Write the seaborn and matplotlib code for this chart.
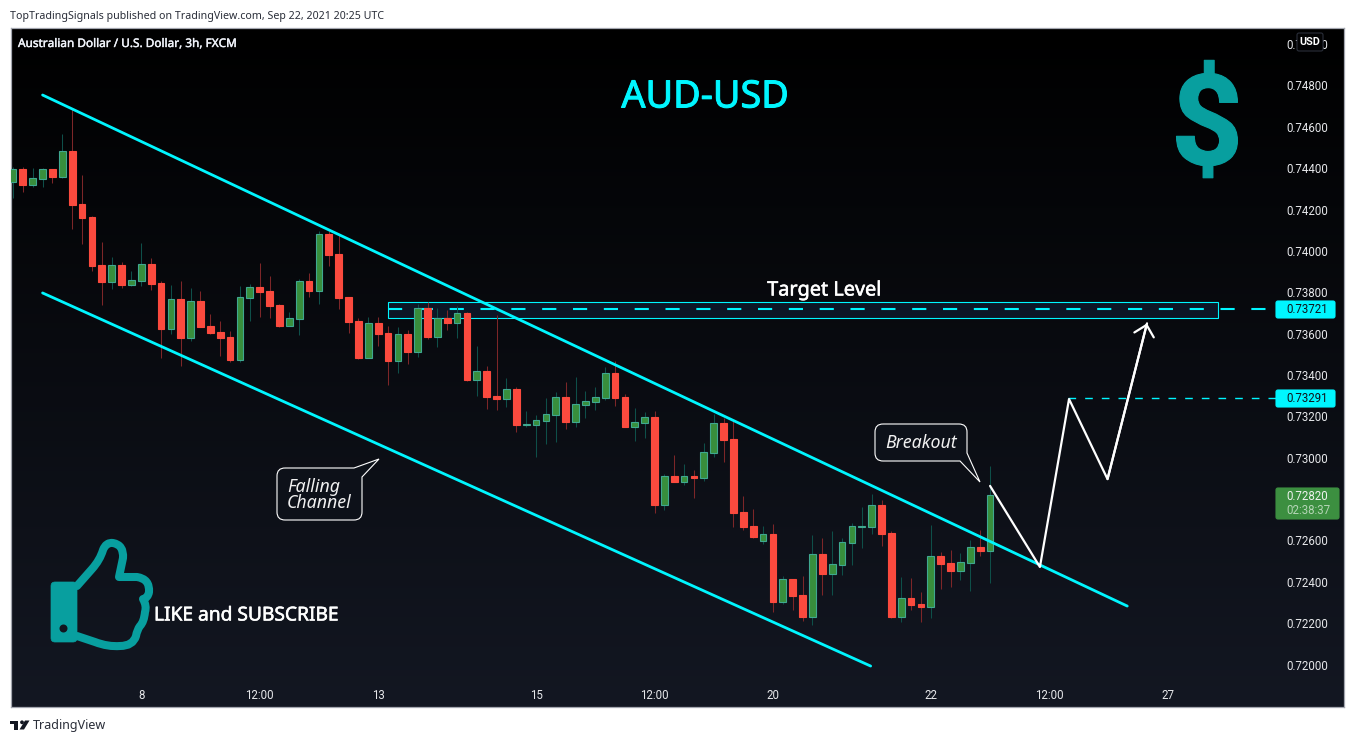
import numpy as np
import pandas as pd
import matplotlib
matplotlib.use('Agg')
import matplotlib.pyplot as plt
import matplotlib.patheffects as pe
import seaborn as sns
from matplotlib.patches import FancyBboxPatch, PathPatch, Rectangle, Circle
from matplotlib.path import Path
from matplotlib.transforms import Affine2D, ScaledTranslation

# Candles in 1e-5 price units
opens = [74337, 74397, 74321, 74352, 74397, 74360, 74484, 74228, 74165, 73933,
         73852, 73933, 73838, 73857, 73938, 73846, 73625, 73768, 73581, 73759,
         73638, 73609, 73585, 73475, 73776, 73826, 73807, 73739, 73639, 73675,
         73855, 73809, 74083, 73986, 73778, 73662, 73485, 73652, 73604, 73470,
         73599, 73514, 73725, 73586, 73676, 73654, 73701, 73378, 73420, 73299,
         73286, 73333, 73161, 73161, 73180, 73209, 73294, 73175, 73257, 73272,
         73291, 73410, 73294, 73151, 73170, 73198, 72774, 72912, 72885, 72912,
         72904, 73027, 73169, 73091, 72738, 72671, 72600, 72632, 72305, 72414,
         72337, 72232, 72535, 72440, 72484, 72590, 72667, 72667, 72772, 72637,
         72232, 72322, 72293, 72280, 72525, 72492, 72455, 72493, 72569, 72551]
highs = [74410, 74410, 74402, 74402, 74397, 74568, 74687, 74370, 74171, 74046,
         73973, 73949, 73905, 74041, 73968, 73857, 73838, 73857, 73823, 73809,
         73697, 73664, 73615, 73833, 73842, 73944, 73881, 73746, 73707, 73867,
         73896, 74099, 74099, 74083, 73778, 73678, 73683, 73683, 73639, 73635,
         73620, 73746, 73754, 73725, 73717, 73736, 73707, 73543, 73446, 73693,
         73388, 73344, 73228, 73209, 73291, 73320, 73369, 73393, 73325, 73344,
         73441, 73470, 73310, 73243, 73223, 73228, 72924, 73016, 72972, 72943,
         73074, 73214, 73195, 73180, 72817, 72754, 72672, 72682, 72430, 72414,
         72430, 72629, 72614, 72648, 72614, 72687, 72764, 72827, 72798, 72648,
         72426, 72421, 72353, 72677, 72546, 72556, 72542, 72604, 72653, 72962]
lows = [74258, 74287, 74313, 74312, 74331, 74353, 74108, 74036, 73905, 73741,
        73818, 73823, 73833, 73833, 73813, 73485, 73601, 73446, 73567, 73634,
        73601, 73494, 73465, 73465, 73664, 73683, 73678, 73634, 73639, 73596,
        73780, 73746, 73930, 73722, 73606, 73480, 73485, 73543, 73354, 73412,
        73456, 73489, 73577, 73538, 73620, 73581, 73373, 73301, 73238, 73233,
        73248, 73127, 73151, 73006, 73069, 73078, 73141, 73151, 73194, 73233,
        73281, 73252, 73151, 73083, 73098, 72735, 72750, 72885, 72870, 72808,
        72890, 73006, 72982, 72667, 72653, 72614, 72585, 72256, 72295, 72266,
        72213, 72193, 72339, 72339, 72435, 72484, 72566, 72634, 72575, 72227,
        72208, 72266, 72208, 72227, 72367, 72377, 72411, 72358, 72527, 72397]
closes = [74397, 74321, 74353, 74397, 74360, 74484, 74225, 74162, 73930, 73852,
          73933, 73838, 73860, 73938, 73842, 73625, 73768, 73581, 73759, 73634,
          73606, 73581, 73475, 73778, 73826, 73804, 73736, 73639, 73676, 73855,
          73809, 74083, 73983, 73775, 73659, 73485, 73652, 73601, 73470, 73599,
          73514, 73725, 73586, 73676, 73654, 73701, 73378, 73420, 73296, 73286,
          73333, 73161, 73164, 73183, 73212, 73294, 73175, 73261, 73275, 73294,
          73410, 73291, 73151, 73173, 73198, 72774, 72912, 72885, 72912, 72904,
          73029, 73169, 73088, 72735, 72667, 72619, 72632, 72305, 72414, 72334,
          72232, 72535, 72440, 72487, 72593, 72671, 72672, 72772, 72634, 72232,
          72322, 72290, 72280, 72525, 72488, 72455, 72496, 72569, 72551, 72820]

# Drawn lines, (bar index, price)
channel_top_x = [3, 112.9]
channel_top_y = [0.74756, 0.72285]
channel_low_x = [3, 86.9]
channel_low_y = [0.73799, 0.71995]
path_x = [99, 104.05, 107, 110.9, 114.9]
path_y = [0.72866, 0.72474, 0.73286, 0.72899, 0.73652]

target_level = 0.73721
mid_level = 0.73291
last_price = 0.72820
countdown = '02:38:37'

# 0.72800 sits behind the last price tag, so it is left out
price_ticks = [0.75, 0.748, 0.746, 0.744, 0.742, 0.74, 0.738, 0.736, 0.734,
               0.732, 0.73, 0.726, 0.724, 0.722, 0.72]
time_ticks = [13, 25, 37, 53, 65, 77, 93, 105, 117]
time_labels = ['8', '12:00', '13', '15', '12:00', '20', '22', '12:00', '27']

W, H = 1354, 743
TEAL = '#089f9f'
CYAN = '#00f6ff'
RED = '#fb4a3e'
GREEN = '#388e3c'
LABEL = '#e6e7ea'

sns.set_theme(style='dark')
plt.rcParams['font.family'] = ['Noto Sans', 'DejaVu Sans']

df = pd.DataFrame({'open': opens, 'high': highs, 'low': lows, 'close': closes}) / 1e5
df['idx'] = range(len(df))
df['up'] = df['close'] >= df['open']

fig = plt.figure(figsize=(W / 100, H / 100), dpi=100, facecolor='white')
ax = fig.add_axes([11 / W, 1 - 707 / H, 1333 / W, 679 / H])
px = Affine2D().scale(1, -1).translate(0, H)  # pixel position, origin top left

# Background fades from black to the dark blue of the theme
grad = np.linspace(0, 1, 256)[:, None, None] * np.array([0x13, 0x17, 0x22]) / 255
ax.imshow(grad, aspect='auto', extent=(0, 1, 0, 1), transform=ax.transAxes, zorder=0)

# Target box and levels sit under the candles
ax.add_patch(Rectangle((38, 0.73678), 84.1, 0.00077, facecolor='#0c1626', edgecolor=CYAN,
                       linewidth=0.8, zorder=1))
level_df = pd.DataFrame({'x': [38, 128], 'y': [target_level, target_level]})
sns.lineplot(data=level_df, x='x', y='y', color=CYAN, linewidth=1.5, linestyle=(0, (6.8, 8)),
             ax=ax, zorder=2, legend=False, errorbar=None)
mid_df = pd.DataFrame({'x': [106.9, 128], 'y': [mid_level, mid_level]})
sns.lineplot(data=mid_df, x='x', y='y', color=CYAN, linewidth=1, linestyle=(0, (5.5, 6.5)),
             ax=ax, zorder=2, legend=False, errorbar=None)

# Candles
for up, part in df.groupby('up'):
    wick = '#0e4f49' if up else '#7d2628'
    ax.vlines(part['idx'], part['low'], part['high'], color=wick, linewidth=0.75, zorder=3)
    ax.bar(part['idx'], (part['close'] - part['open']).abs().clip(lower=0.00003),
           bottom=part[['open', 'close']].min(axis=1), width=0.68,
           color=GREEN if up else RED, edgecolor='#3fa890' if up else RED, linewidth=0.8, zorder=4)

# Channel and projected path
for xs, ys in [(channel_top_x, channel_top_y), (channel_low_x, channel_low_y)]:
    sns.lineplot(x=xs, y=ys, color=CYAN, linewidth=2, ax=ax, zorder=5, legend=False, errorbar=None)
line_df = pd.DataFrame({'x': path_x, 'y': path_y})
sns.lineplot(data=line_df, x='x', y='y', sort=False, estimator=None, color='white', linewidth=1.6,
             ax=ax, zorder=6, legend=False)
ax.annotate('', xy=(path_x[-1], path_y[-1]), xytext=(path_x[-2], path_y[-2]), zorder=6,
            arrowprops=dict(arrowstyle='->,head_length=0.62,head_width=0.6', color='white',
                            lw=1.6, shrinkA=0, shrinkB=0))

ax.set_xlim(-0.2, 134.86)
ax.set_ylim(0.71797, 0.7508)
ax.set_xlabel('')
ax.set_ylabel('')
ax.grid(False)
ax.set_xticks(time_ticks, time_labels)
ax.set_yticks(price_ticks, [f'{p:.5f}' for p in price_ticks])
ax.yaxis.tick_right()
ax.tick_params(axis='x', length=0, pad=-13.2, labelsize=8.3, labelcolor=LABEL)
ax.tick_params(axis='y', length=0, pad=-41.8, labelsize=8.3, labelcolor=LABEL)
nudge = ScaledTranslation(0, 0.5 / 100, fig.dpi_scale_trans)
for lab in ax.get_xticklabels() + ax.get_yticklabels():
    lab.set_fontfamily('Roboto')
for lab in ax.get_yticklabels():
    lab.set_transform(lab.get_transform() + nudge)
for sp in ax.spines.values():
    sp.set_color('#a3a6af')
    sp.set_linewidth(0.9)


def text(x, y, s, stroke=0, **kw):
    kw.setdefault('va', 'center')
    t = fig.text(x / W, 1 - y / H, s, **kw)
    if stroke:
        t.set_path_effects([pe.withStroke(linewidth=stroke, foreground=kw.get('color', 'white'))])
    return t


def tag(x0, y0, x1, y1, color, edge=None):
    fig.add_artist(FancyBboxPatch((x0, y0), x1 - x0, y1 - y0, boxstyle='round,pad=0,rounding_size=2',
                                  facecolor=color, edgecolor=edge or color, linewidth=0.8,
                                  transform=px, zorder=3))


def shape(segments, **kw):
    # segments: first point, then plain points or (control, end) pairs for curves
    verts, codes = [segments[0]], [Path.MOVETO]
    for seg in segments[1:]:
        if isinstance(seg[0], tuple):
            verts += list(seg)
            codes += [Path.CURVE3, Path.CURVE3] if len(seg) == 2 else [Path.CURVE4] * 3
        else:
            verts.append(seg)
            codes.append(Path.LINETO)
    fig.add_artist(PathPatch(Path(verts, codes), transform=px, zorder=2, **kw))


# Price tags on the scale
tag(1276, 301, 1335, 318, CYAN)
text(1286, 309.5, f'{target_level:.5f}', fontsize=8.3, family='Roboto', color='#10141c', zorder=4)
tag(1276, 390, 1335, 407, CYAN)
text(1286, 398.5, f'{mid_level:.5f}', fontsize=8.3, family='Roboto', color='#10141c', zorder=4)
tag(1276, 488, 1339, 519, '#3c8f40')
text(1286, 496.5, f'{last_price:.5f}', fontsize=8.3, family='Roboto', color='#eef2ee', zorder=4)
text(1286, 510.5, countdown, fontsize=8.3, family='Roboto', color='#b5d5b6', zorder=4)
tag(1297, 33, 1323, 51, '#020203', '#2a2e39')
text(1310, 42, 'USD', fontsize=7.8, family='Roboto', weight='bold', color='white', ha='center', zorder=4)

# Header, footer and chart title
text(10, 16, 'TopTradingSignals published on TradingView.com, Sep 22, 2021 20:25 UTC',
     fontsize=7.65, color='#2a2e39')
text(18, 43.5, 'Australian Dollar / U.S. Dollar, 3h, FXCM', stroke=0.3, fontsize=8.5, color='#f0f3fa')
text(33, 725, 'TradingView', fontsize=9, color='#2a2e39')

# Drawn labels
text(705, 97.5, 'AUD-USD', stroke=0.7, fontsize=27.2, color=CYAN, ha='center')
text(824.5, 290.5, 'Target Level', stroke=0.4, fontsize=14.3, color='white', ha='center')
text(154, 615.5, 'LIKE and SUBSCRIBE', stroke=0.4, fontsize=13.8, color='white')
text(1207, 130, '$', stroke=0.8, fontsize=91, color=TEAL, ha='center', weight='bold', family='Roboto')

# Speech bubbles
bubble_kw = dict(facecolor='#0d1119', edgecolor='white', linewidth=0.8)
shape([(883, 424), (959, 424), ((967, 424), (967, 432)), (967, 453), (980, 482), (960, 461), (883, 461),
       ((875, 461), (875, 453)), (875, 432), ((875, 424), (883, 424))], **bubble_kw)
text(921, 443, 'Breakout', fontsize=12.8, style='italic', color='#f0f0f0', ha='center')
shape([(285, 468), (354, 468), (379, 459), (362, 477), (362, 512), ((362, 520), (354, 520)), (285, 520),
       ((277, 520), (277, 512)), (277, 476), ((277, 468), (285, 468))], **bubble_kw)
text(287, 487.5, 'Falling', fontsize=12.8, style='italic', color='#f0f0f0')
text(287, 503.5, 'Channel', fontsize=12.8, style='italic', color='#f0f0f0')

# Thumb icon
shape([(77, 586), (92, 569), ((100, 560), (103, 550)), ((106, 542), (113, 543)), ((124, 545), (123, 558)),
       (119, 577), (137, 577), ((150, 579), (149, 592)), ((148, 598), (143, 599)), ((147, 606), (145, 612)),
       ((144, 622), (140, 626)), ((137, 630), (136, 636)), ((133, 646), (120, 646)), ((108, 647), (95, 642)),
       (77, 636)],
      facecolor='none', edgecolor=TEAL, linewidth=5.8, joinstyle='round', capstyle='round')
fig.add_artist(FancyBboxPatch((51, 582), 26, 60, boxstyle='round,pad=0,rounding_size=4', facecolor=TEAL,
                              edgecolor=TEAL, linewidth=0.5, transform=px, zorder=2))
fig.add_artist(Circle((63.5, 628.5), 4, facecolor='#12151f', edgecolor='none', transform=px, zorder=3))

# TradingView logo
logo = '#131722'
shape([(10, 720.5), (18, 720.5), (18, 729.5), (14, 729.5), (14, 724), (10, 724), (10, 720.5)], facecolor=logo,
      edgecolor='none')
fig.add_artist(Circle((22, 722.3), 1.9, facecolor=logo, edgecolor='none', transform=px, zorder=2))
shape([(25, 720.5), (29.5, 720.5), (24, 729.5), (19.5, 729.5), (25, 720.5)], facecolor=logo, edgecolor='none')

fig.savefig('out.png', dpi=100)
